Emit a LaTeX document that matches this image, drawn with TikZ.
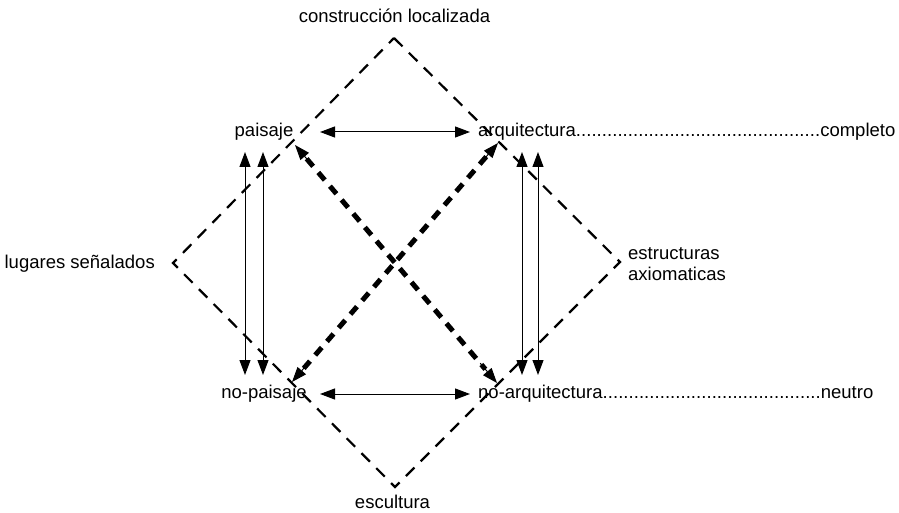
\documentclass[tikz,border=0pt]{standalone}
\usepackage{fontspec}
\setmainfont{Liberation Sans}
\usetikzlibrary{arrows.meta, positioning, calc}
\tikzset{
  every node/.style={font=\fontsize{18.5}{21}\selectfont, inner sep=0pt},
  both/.style={{Triangle[length=15pt,width=11pt]}-{Triangle[length=15pt,width=11pt]}, line width=1pt},
  tip/.style={-{Triangle[length=15pt,width=11pt]}, line width=1pt},
  frame/.style={line width=2.2pt, dash pattern=on 12pt off 9pt},
  cross/.style={line width=5pt, dash pattern=on 10pt off 8pt},
}

\begin{document}
\begin{tikzpicture}[x=1pt, y=-1pt]
  \useasboundingbox (0,0) rectangle (899,513);

  % corners
  \coordinate (top) at (394,38);
  \coordinate (left) at (173,263);
  \coordinate (bottom) at (395,487);
  \coordinate (right) at (620,262);

  % terms
  \node[anchor=base] (paisaje) at (264,137) {paisaje};
  \node[anchor=base] (nopaisaje) at (264,398) {no-paisaje};
  \node[anchor=base west] (arq) at (478,137) {\makebox[417pt][l]{arquitectura\xleaders\hbox{.}\hfill completo}};
  \node[anchor=base west] (noarq) at (478,398) {\makebox[395pt][l]{no-arquitectura\xleaders\hbox{.}\hfill neutro}};

  % corner labels
  \node[anchor=base] (constr) at (394.5,23) {construcción localizada};
  \node[anchor=base east] (lugares) at (155,268) {lugares señalados};
  \node[anchor=west, align=left] (estruct) at (628,264) {estructuras\\axiomaticas};
  \node[anchor=base] (escultura) at (392.5,508) {escultura};

  % diamond
  \draw[frame] (top) -- (right) -- (bottom) -- (left) -- cycle;

  % horizontal arrows
  \draw[both] ([shift={(56pt,5pt)}]paisaje.base) -- ([shift={(-8pt,5pt)}]arq.base west);
  \draw[both] ([shift={(56pt,4pt)}]nopaisaje.base) -- ([shift={(-8pt,4pt)}]noarq.base west);

  % vertical arrows
  \draw[both] ([shift={(-19pt,-15pt)}]paisaje.base) -- ([shift={(-19pt,23pt)}]nopaisaje.base);
  \draw[both] ([shift={(-1pt,-15pt)}]paisaje.base) -- ([shift={(-1pt,23pt)}]nopaisaje.base);
  \draw[both] ([shift={(44pt,-15pt)}]arq.base west) -- ([shift={(44pt,23pt)}]noarq.base west);
  \draw[both] ([shift={(60pt,-15pt)}]arq.base west) -- ([shift={(60pt,23pt)}]noarq.base west);

  % diagonals
  \coordinate (p) at ([shift={(31pt,-8pt)}]paisaje.base);
  \coordinate (a) at ([shift={(20pt,-6pt)}]arq.base west);
  \coordinate (np) at ([shift={(28pt,16pt)}]nopaisaje.base);
  \coordinate (na) at ([shift={(19pt,15pt)}]noarq.base west);
  \draw[cross, shorten <=18pt, shorten >=18pt] (p) -- (na);
  \draw[cross, shorten <=18pt, shorten >=18pt] (a) -- (np);
  \draw[tip] ($(p)!26pt!(na)$) -- (p);
  \draw[tip] ($(na)!26pt!(p)$) -- (na);
  \draw[tip] ($(a)!26pt!(np)$) -- (a);
  \draw[tip] ($(np)!26pt!(a)$) -- (np);
\end{tikzpicture}
\end{document}
